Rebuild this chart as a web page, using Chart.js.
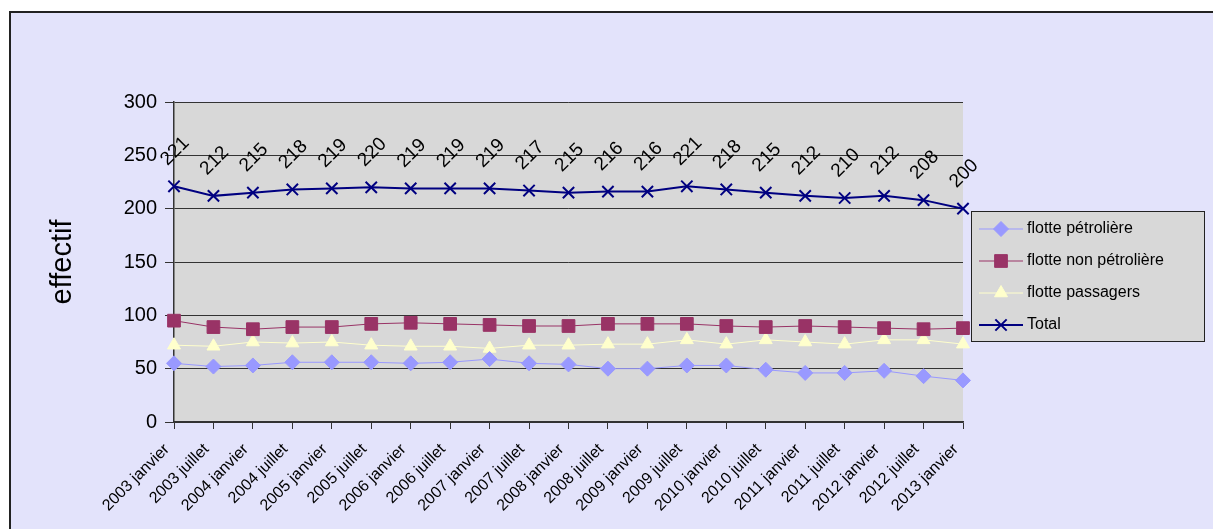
<!DOCTYPE html>
<html>
<head>
<meta charset="utf-8">
<script src="https://cdn.jsdelivr.net/npm/chart.js@4"></script>
<style>
  html, body { margin: 0; padding: 0; background: #fff; }
  #frame {
    position: absolute; left: 9px; top: 11px; width: 1210px; height: 530px;
    background: #e3e3fb; border-left: 2px solid #222; border-top: 2px solid #222;
  }
  #wrap { position: absolute; left: 0; top: 0; width: 1213px; height: 529px; }
</style>
</head>
<body>
<div id="frame"></div>
<div id="wrap"><canvas id="chart" width="1213" height="529"></canvas></div>
<script>
const labels = [
  "2003 janvier", "2003 juillet", "2004 janvier", "2004 juillet", "2005 janvier",
  "2005 juillet", "2006 janvier", "2006 juillet", "2007 janvier", "2007 juillet",
  "2008 janvier", "2008 juillet", "2009 janvier", "2009 juillet", "2010 janvier",
  "2010 juillet", "2011 janvier", "2011 juillet", "2012 janvier", "2012 juillet",
  "2013 janvier"
];
const petroliere = [55, 52, 53, 56, 56, 56, 55, 56, 59, 55, 54, 50, 50, 53, 53, 49, 46, 46, 48, 43, 39];
const nonPetroliere = [95, 89, 87, 89, 89, 92, 93, 92, 91, 90, 90, 92, 92, 92, 90, 89, 90, 89, 88, 87, 88];
const passagers = [72, 71, 75, 74, 75, 72, 71, 71, 69, 72, 72, 73, 73, 77, 73, 77, 75, 73, 77, 77, 73];
const total = [221, 212, 215, 218, 219, 220, 219, 219, 219, 217, 215, 216, 216, 221, 218, 215, 212, 210, 212, 208, 200];

const FONT = "'Liberation Sans', Arial, sans-serif";

// grey plot area
const plotBg = {
  id: "plotBg",
  beforeDraw(chart) {
    const { ctx, chartArea: a } = chart;
    ctx.save();
    ctx.fillStyle = "#d8d8d8";
    ctx.fillRect(a.left, a.top, a.right - a.left, a.bottom - a.top);
    ctx.restore();
  }
};

// rotated value labels above the Total line
const totalLabels = {
  id: "totalLabels",
  afterDatasetsDraw(chart) {
    const { ctx } = chart;
    const meta = chart.getDatasetMeta(3);
    ctx.save();
    ctx.font = "19px " + FONT;
    ctx.fillStyle = "#000";
    ctx.textAlign = "center";
    ctx.textBaseline = "middle";
    meta.data.forEach((pt, i) => {
      ctx.save();
      ctx.translate(pt.x + 1, pt.y - 35);
      ctx.rotate(-Math.PI / 4);
      ctx.fillText(String(total[i]), 0, 0);
      ctx.restore();
    });
    ctx.restore();
  }
};

// legend box on the right
const sideLegend = {
  id: "sideLegend",
  afterDraw(chart) {
    const { ctx } = chart;
    const x = 971, y = 211, w = 233, h = 130;
    ctx.save();
    ctx.fillStyle = "#d8d8d8";
    ctx.fillRect(x, y, w, h);
    ctx.strokeStyle = "#222";
    ctx.lineWidth = 1;
    ctx.strokeRect(x + 0.5, y + 0.5, w, h);
    ctx.font = "16px " + FONT;
    ctx.textBaseline = "middle";
    chart.data.datasets.forEach((ds, i) => {
      const cy = y + 18 + i * 32;
      ctx.strokeStyle = ds.borderColor;
      ctx.lineWidth = ds.borderWidth;
      ctx.beginPath();
      ctx.moveTo(x + 8, cy);
      ctx.lineTo(x + 52, cy);
      ctx.stroke();
      ctx.fillStyle = ds.pointBackgroundColor;
      ctx.strokeStyle = ds.pointBorderColor;
      ctx.lineWidth = ds.pointBorderWidth;
      Chart.helpers.drawPoint(ctx, {
        pointStyle: ds.pointStyle,
        radius: ds.pointRadius,
        borderWidth: ds.pointBorderWidth,
        rotation: 0
      }, x + 30, cy);
      ctx.fillStyle = "#000";
      ctx.fillText(ds.label, x + 56, cy);
    });
    ctx.restore();
  }
};

function series(label, data, color, style, radius, width) {
  return {
    label: label,
    data: data,
    borderColor: color,
    backgroundColor: color,
    borderWidth: width,
    pointStyle: style,
    pointRadius: radius,
    pointHoverRadius: radius,
    pointBackgroundColor: color,
    pointBorderColor: color,
    pointBorderWidth: style === "crossRot" ? 2 : 1,
    tension: 0
  };
}

new Chart(document.getElementById("chart"), {
  type: "line",
  data: {
    labels: labels,
    datasets: [
      series("flotte pétrolière", petroliere, "#9999ff", "rectRot", 7.5, 1),
      series("flotte non pétrolière", nonPetroliere, "#993366", "rect", 9, 1),
      series("flotte passagers", passagers, "#ffffcc", "triangle", 7.5, 1),
      series("Total", total, "#000080", "crossRot", 8, 2)
    ]
  },
  options: {
    responsive: false,
    animation: false,
    layout: { padding: { left: 46, top: 102, right: 250, bottom: 0 } },
    plugins: {
      legend: { display: false },
      tooltip: { enabled: false }
    },
    scales: {
      x: {
        offset: false,
        grid: { drawOnChartArea: false, color: "#333", tickLength: 7, tickWidth: 1 },
        border: { color: "#333", width: 1.5 },
        ticks: {
          autoSkip: false, minRotation: 45, maxRotation: 45, padding: 11,
          labelOffset: -7, color: "#000", font: { size: 16, family: FONT }
        },
        afterFit(scale) { scale.height = 107; }
      },
      y: {
        min: 0, max: 300,
        grid: { color: "#333", lineWidth: 1, tickLength: 9 },
        border: { color: "#333", width: 1.5 },
        ticks: {
          stepSize: 50, padding: 8, color: "#000",
          font: { size: 20, family: FONT }
        },
        title: {
          display: true, text: "effectif", color: "#000",
          font: { size: 29, family: FONT }, padding: 0
        },
        afterFit(scale) { scale.width = 128; }
      }
    }
  },
  plugins: [plotBg, totalLabels, sideLegend]
});
</script>
</body>
</html>
